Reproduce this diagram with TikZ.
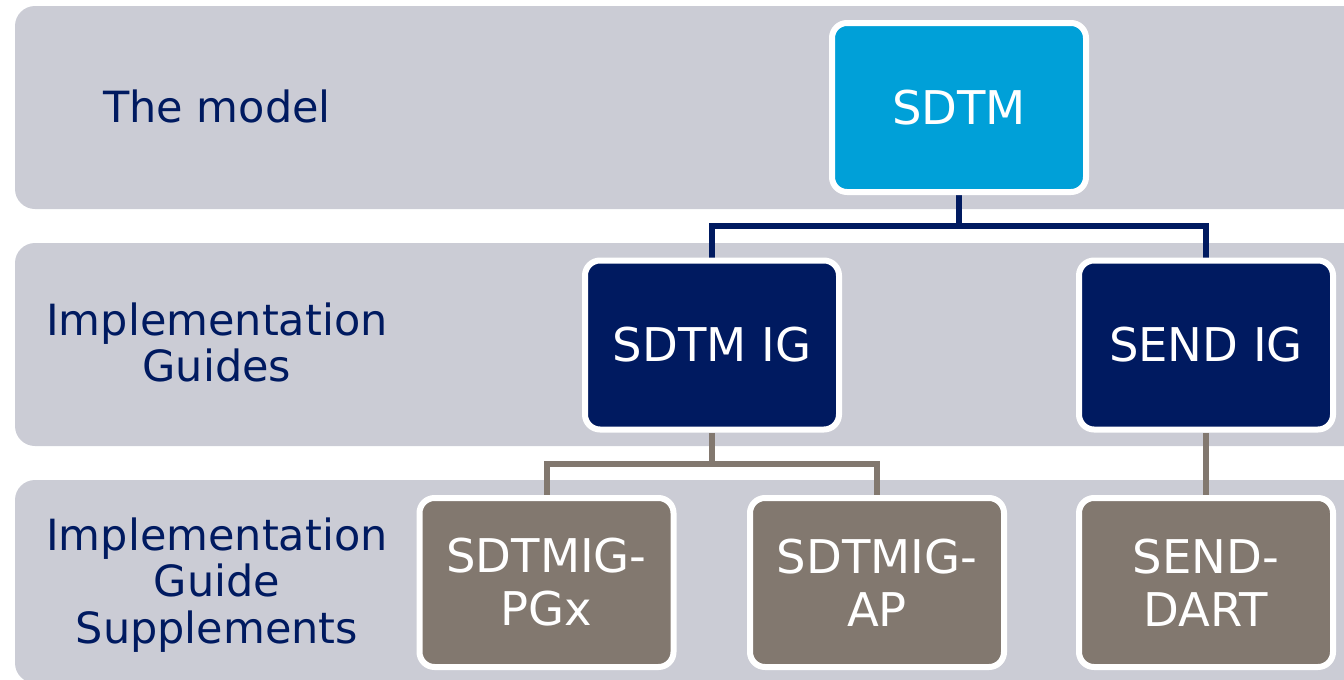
\documentclass[tikz,border=0pt]{standalone}
\usepackage{fontspec}
\setmainfont{DejaVu Sans}

% layers: grey tiers at the back, connectors above them, boxes on top
\pgfdeclarelayer{tiers}
\pgfdeclarelayer{links}
\pgfsetlayers{tiers,links,main}

\definecolor{bandgrey}{HTML}{CBCCD5}
\definecolor{cdiscnavy}{HTML}{001A60}
\definecolor{cdisccyan}{HTML}{00A0D8}
\definecolor{warmgrey}{HTML}{82786F}

\tikzset{
  tier/.style={fill=bandgrey, rounded corners=20pt},
  box/.style={draw=white, line width=6pt, rounded corners=15pt,
    minimum width=254pt, minimum height=169pt, inner sep=0pt,
    align=center, text=white, font=\fontsize{46.5}{53}\selectfont},
  modelbox/.style={box, fill=cdisccyan},
  guidebox/.style={box, fill=cdiscnavy},
  suppbox/.style={box, fill=warmgrey},
  tierlabel/.style={text=cdiscnavy, align=center, inner sep=0pt,
    font=\fontsize{43}{46.5}\selectfont},
  navylink/.style={draw=cdiscnavy, line width=6pt},
  greylink/.style={draw=warmgrey, line width=6pt},
}

\begin{document}
\begin{tikzpicture}[x=1pt, y=-1pt]
\useasboundingbox (0,0) rectangle (1344,680);

% three horizontal tiers
\begin{pgfonlayer}{tiers}
  \fill[tier] (15,6)   rectangle (1380,209);
  \fill[tier] (15,243) rectangle (1380,446);
  \fill[tier] (15,480) rectangle (1380,683);
\end{pgfonlayer}

% tier labels
\node[tierlabel] (lblmodel) at (217,106.5) {The model};
\node[tierlabel] (lblig)    at (217,342.6) {Implementation\\Guides};
\node[tierlabel] (lblsupp)  at (217,584.7) {Implementation\\Guide\\Supplements};

% boxes
\node[modelbox] (sdtm)   at (959,107.5) {SDTM};
\node[guidebox] (sdtmig) at (712,345)   {SDTM IG};
\node[guidebox] (sendig) at (1206,345)  {SEND IG};
\node[suppbox]  (pgx)    at (546.5,582.5) {SDTMIG-\\PGx};
\node[suppbox]  (ap)     at (877,582.5)   {SDTMIG-\\AP};
\node[suppbox]  (dart)   at (1206,582.5) {SEND-\\DART};

% connector junctions
\coordinate (busA) at (959,226);
\coordinate (busB) at (712,464);

\begin{pgfonlayer}{links}
  \draw[navylink] (sdtm.south) -- (busA);
  \draw[navylink] (sdtmig.north) |- (busA) -| (sendig.north);
  \draw[greylink] (sdtmig.south) -- (busB);
  \draw[greylink] (pgx.north) |- (busB) -| (ap.north);
  \draw[greylink] (sendig.south) -- (dart.north);
\end{pgfonlayer}
\end{tikzpicture}
\end{document}
